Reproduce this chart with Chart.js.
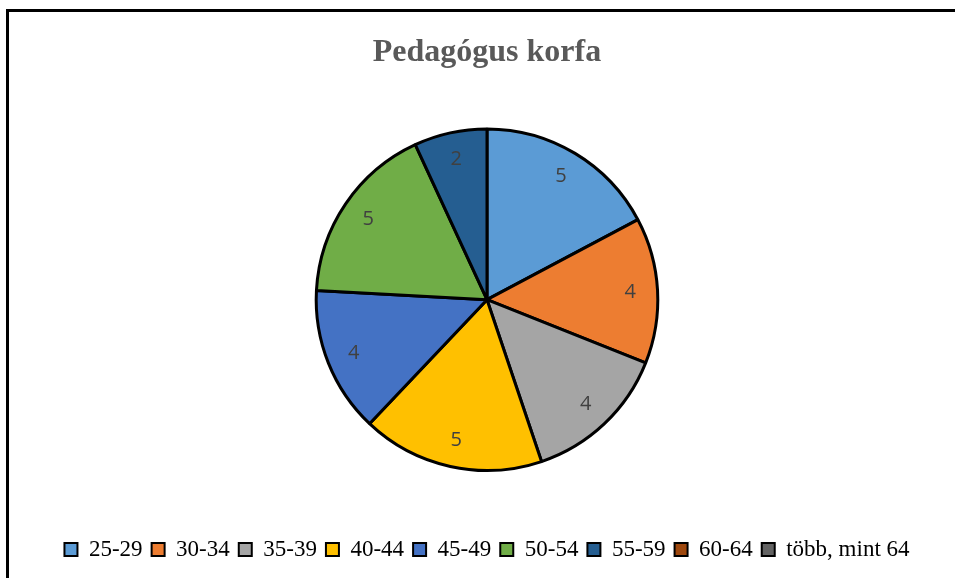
<!DOCTYPE html>
<html>
<head>
<meta charset="utf-8">
<script src="https://cdn.jsdelivr.net/npm/chart.js@4"></script>
<style>
  html, body { margin: 0; padding: 0; background: #fff; }
  #wrap { position: relative; width: 955px; height: 578px; }
  #frame {
    position: absolute; left: 6px; top: 9px; right: 0; bottom: 0;
    border-left: 3px solid #000; border-top: 3px solid #000;
    pointer-events: none;
  }
</style>
</head>
<body>
<div id="wrap">
  <canvas id="korfa" width="955" height="578"></canvas>
  <div id="frame"></div>
</div>
<script>
const ageGroups = ["25-29", "30-34", "35-39", "40-44", "45-49", "50-54", "55-59", "60-64", "több, mint 64"];
const teacherCounts = [5, 4, 4, 5, 4, 5, 2, 0, 0];
const sliceColors = ["#5B9BD5", "#ED7D31", "#A5A5A5", "#FFC000", "#4472C4", "#70AD47", "#255E91", "#9E480E", "#636363"];

// simple value labels inside the slices
const sliceLabels = {
  id: "sliceLabels",
  afterDatasetsDraw(chart) {
    const ctx = chart.ctx;
    const meta = chart.getDatasetMeta(0);
    ctx.save();
    ctx.font = "20px 'Open Sans'";
    ctx.fillStyle = "#404040";
    ctx.textAlign = "center";
    ctx.textBaseline = "middle";
    meta.data.forEach((arc, i) => {
      const v = chart.data.datasets[0].data[i];
      if (!v) return;
      const p = arc.getProps(["x", "y", "startAngle", "endAngle", "outerRadius"], true);
      const mid = (p.startAngle + p.endAngle) / 2;
      const r = p.outerRadius * 0.84;
      ctx.fillText(String(v), p.x + Math.cos(mid) * r, p.y + Math.sin(mid) * r);
    });
    ctx.restore();
  }
};

new Chart(document.getElementById("korfa"), {
  type: "pie",
  data: {
    labels: ageGroups,
    datasets: [{
      data: teacherCounts,
      backgroundColor: sliceColors,
      borderColor: "#000",
      borderWidth: 3,
      borderAlign: "center"
    }]
  },
  options: {
    responsive: false,
    animation: false,
    layout: { padding: { left: 19, right: 0, top: 0, bottom: 7 } },
    plugins: {
      title: {
        display: true,
        text: "Pedagógus korfa",
        color: "#595959",
        font: { family: "'Liberation Serif'", size: 32, weight: "bold" },
        padding: { top: 34, bottom: 55 }
      },
      // empty spacer between pie and legend
      subtitle: {
        display: true,
        position: "bottom",
        weight: 500,
        text: " ",
        font: { size: 10 },
        padding: { top: 45, bottom: 0 }
      },
      legend: {
        position: "bottom",
        labels: {
          color: "#000",
          font: { family: "'Liberation Serif'", size: 23 },
          boxWidth: 13,
          boxHeight: 13,
          padding: 9,
          generateLabels(chart) {
            return chart.data.labels.map((l, i) => ({
              text: l,
              fillStyle: sliceColors[i],
              strokeStyle: "#000",
              lineWidth: 2,
              fontColor: "#000",
              index: i,
              hidden: false
            }));
          }
        }
      },
      tooltip: { enabled: false }
    }
  },
  plugins: [sliceLabels]
});
</script>
</body>
</html>
